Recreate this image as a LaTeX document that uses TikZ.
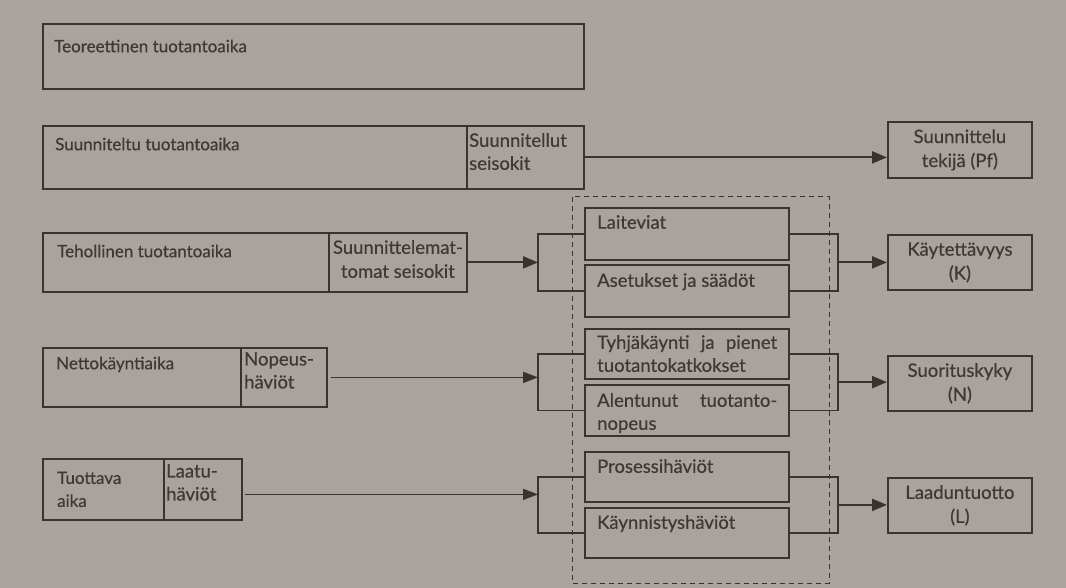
\documentclass[tikz,border=0pt]{standalone}
\usepackage{fontspec}
\setmainfont{Lato}[FakeBold=0.5]
\usetikzlibrary{arrows.meta,calc}
\definecolor{bg}{RGB}{168,163,156}
\definecolor{ink}{RGB}{56,51,46}
\definecolor{txt}{RGB}{62,57,52}
\begin{document}
\begin{tikzpicture}[x=1pt,y=-1pt,
  box/.style={draw=ink, line width=1.8pt, inner sep=0pt, anchor=north west},
  lbl/.style={anchor=north west, inner sep=0pt, text=txt, font=\fontsize{17}{23}\selectfont, align=left},
  slbl/.style={anchor=north west, inner sep=0pt, text=txt, font=\fontsize{18.5}{23}\selectfont, align=left},
  clbl/.style={anchor=center, inner sep=0pt, text=txt, font=\fontsize{18.5}{24}\selectfont, align=center},
  brk/.style={draw=ink, line width=1.8pt},
  thick arrow/.style={draw=ink, line width=2.2pt, -{Triangle[length=15pt,width=12pt]}},
  thin arrow/.style={draw=ink, line width=1.6pt, -{Triangle[length=15pt,width=11pt]}},
  grp/.style={draw=ink, line width=1pt, dash pattern=on 5pt off 4pt}
]
\fill[bg] (0,0) rectangle (1066,588);
\useasboundingbox (0,0) rectangle (1066,588);

% left boxes
\node[box, minimum width=541, minimum height=65] (b1) at (42,23) {};
\node[box, minimum width=424, minimum height=63] (b2) at (42,125) {};
\node[box, minimum width=117, minimum height=63] (b2r) at (466,125) {};
\node[box, minimum width=286, minimum height=59] (b3) at (42,232) {};
\node[box, minimum width=138, minimum height=59] (b3r) at (328,232) {};
\node[box, minimum width=198, minimum height=59] (b4) at (42,347) {};
\node[box, minimum width=86, minimum height=59] (b4r) at (240,347) {};
\node[box, minimum width=121, minimum height=61] (b5) at (42,458) {};
\node[box, minimum width=78, minimum height=61] (b5r) at (163,458) {};

\node[lbl] (t1) at ($(b1.north west)+(12,16.5)$) {Teoreettinen tuotantoaika};
\node[lbl] (t2) at ($(b2.north west)+(13,12.5)$) {Suunniteltu tuotantoaika};
\node[slbl] (t2r) at ($(b2r.north west)+(3,8)$) {Suunnitellut\\seisokit};
\node[lbl] (t3) at ($(b3.north west)+(15,12.5)$) {Tehollinen tuotantoaika};
\node[clbl, anchor=north] (t3r) at ($(b3r.north)+(0,8)$) {Suunnittelemat-\\tomat seisokit};
\node[lbl] (t4) at ($(b4.north west)+(14,9.5)$) {Nettokäyntiaika};
\node[slbl] (t4r) at ($(b4r.north west)+(4,5)$) {Nopeus-\\häviöt};
\node[lbl] (t5) at ($(b5.north west)+(15,13.5)$) {Tuottava\\aika};
\node[slbl] (t5r) at ($(b5r.north west)+(3,6)$) {Laatu-\\häviöt};

% dashed group
\draw[grp] (572,197) rectangle (829,583);

% middle boxes
\node[box, minimum width=204, minimum height=52] (m1) at (584,207) {};
\node[box, minimum width=204, minimum height=52] (m2) at (584,264) {};
\node[box, minimum width=204, minimum height=50] (m3) at (584,328) {};
\node[box, minimum width=204, minimum height=51] (m4) at (584,384) {};
\node[box, minimum width=204, minimum height=50] (m5) at (584,451) {};
\node[box, minimum width=204, minimum height=50] (m6) at (584,507) {};

\node[slbl] (tm1) at ($(m1.north west)+(13,8)$) {Laiteviat};
\node[slbl] (tm2) at ($(m2.north west)+(13,9)$) {Asetukset ja säädöt};
\node[slbl] (tm3) at ($(m3.north west)+(13,7)$) {\makebox[180pt][s]{Tyhjäkäynti ja pienet}\\tuotantokatkokset};
\node[slbl] (tm4) at ($(m4.north west)+(13,9)$) {\makebox[180pt][s]{Alentunut tuotanto-}\\nopeus};
\node[slbl] (tm5) at ($(m5.north west)+(13,8)$) {Prosessihäviöt};
\node[slbl] (tm6) at ($(m6.north west)+(13,8)$) {Käynnistyshäviöt};

% right boxes
\node[box, minimum width=144, minimum height=56] (r1) at (887,121) {};
\node[box, minimum width=144, minimum height=55] (r2) at (887,234) {};
\node[box, minimum width=144, minimum height=55] (r3) at (887,355) {};
\node[box, minimum width=144, minimum height=55] (r4) at (887,477) {};

\node[clbl] (tr1) at (r1.center) {Suunnittelu\\tekijä (Pf)};
\node[clbl] (tr2) at (r2.center) {Käytettävyys\\(K)};
\node[clbl] (tr3) at (r3.center) {Suorituskyky\\(N)};
\node[clbl] (tr4) at (r4.center) {Laaduntuotto\\(L)};

% brackets
\coordinate (L1) at ($(m1.west)!0.5!(m2.west)+(-46,0)$);
\coordinate (R1) at ($(m1.east)!0.5!(m2.east)+(48,0)$);
\coordinate (L2) at ($(m3.west)!0.5!(m4.west)+(-46,0)$);
\coordinate (R2) at ($(m3.east)!0.5!(m4.east)+(48,0)$);
\coordinate (L3) at ($(m5.west)!0.5!(m6.west)+(-46,0)$);
\coordinate (R3) at ($(m5.east)!0.5!(m6.east)+(48,0)$);

\draw[brk] (m1.west) -| (L1) |- (m2.west);
\draw[brk] (m1.east) -| (R1) |- (m2.east);
\draw[brk] (m3.west) -| (L2) |- (m4.west);
\draw[brk] (m3.east) -| (R2) |- (m4.east);
\draw[brk] (m5.west) -| (L3) |- (m6.west);
\draw[brk] (m5.east) -| (R3) |- (m6.east);

% arrows
\draw[thick arrow] (b2r.east) -- (b2r.east -| r1.west);
\draw[thick arrow] (b3r.east) -- (b3r.east -| L1);
\draw[thin arrow, shorten <=3pt] (b4r.east) -- (b4r.east -| L2);
\coordinate (b5a) at ($(b5r.east)+(0,5)$);
\draw[thin arrow, shorten <=2pt] (b5a) -- (b5a -| L3);
\draw[thick arrow] (R1) -- (R1 -| r2.west);
\draw[thick arrow] (R2) -- (R2 -| r3.west);
\draw[thick arrow] (R3) -- (R3 -| r4.west);
\end{tikzpicture}
\end{document}
